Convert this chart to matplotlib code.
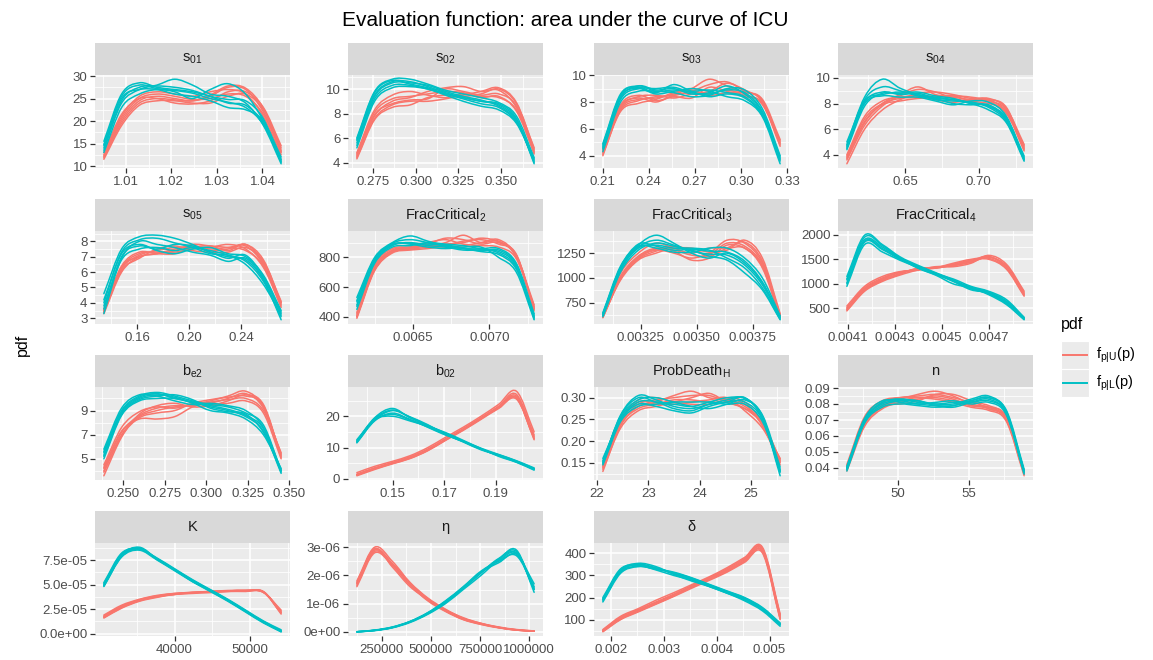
import numpy as np
import matplotlib
matplotlib.use("Agg")
import matplotlib.pyplot as plt
from matplotlib.patches import Rectangle, PathPatch
from matplotlib.path import Path
from matplotlib.lines import Line2D

plt.rcParams['font.family'] = ['Liberation Sans', 'DejaVu Sans']
plt.rcParams['mathtext.fontset'] = 'custom'
plt.rcParams['mathtext.rm'] = 'Liberation Sans'
plt.rcParams['mathtext.it'] = 'Liberation Sans:italic'
plt.rcParams['mathtext.bf'] = 'Liberation Sans:bold'

RED = '#F8766D'
TEAL = '#00BFC4'

# ---------------------------------------------------------------- data
# each curve is a density evaluated on an even grid over [x_min, x_max]

s01_x = [1.0052, 1.0441]
s01_red = [
    [12.0, 20.0, 24.5, 25.5, 25.0, 24.5, 25.5, 27.5, 27.0, 22.0, 13.0],
    [11.5, 19.0, 23.5, 24.5, 24.5, 24.0, 24.0, 25.5, 26.0, 22.5, 14.0],
    [12.5, 21.0, 25.5, 26.5, 26.0, 25.5, 26.5, 27.0, 26.0, 21.0, 12.5],
    [13.0, 21.5, 25.0, 25.0, 24.0, 23.8, 24.5, 26.5, 26.5, 23.0, 14.5],
    [12.2, 20.5, 25.0, 26.0, 25.5, 24.8, 25.0, 26.0, 25.5, 21.5, 13.5],
    [11.8, 19.5, 24.0, 25.0, 24.7, 24.5, 25.8, 27.8, 27.3, 22.8, 13.2],
]
s01_teal = [
    [15.5, 26.0, 28.5, 27.5, 27.0, 26.5, 25.5, 24.0, 23.5, 19.5, 11.0],
    [14.0, 24.0, 27.0, 28.0, 29.3, 28.0, 26.0, 25.5, 24.0, 19.0, 10.5],
    [13.0, 23.0, 26.0, 27.0, 26.5, 25.0, 27.0, 28.3, 26.0, 20.0, 11.5],
    [14.5, 25.0, 27.0, 27.0, 26.0, 25.5, 24.5, 23.0, 22.5, 20.0, 12.0],
    [14.8, 25.5, 28.0, 27.2, 26.8, 26.2, 25.0, 24.2, 23.0, 19.2, 11.3],
    [13.5, 24.5, 27.5, 27.8, 27.5, 26.8, 25.5, 24.8, 24.5, 20.5, 10.8],
]
s01_xticks = [1.01, 1.02, 1.03, 1.04]
s01_xlabels = ['1.01', '1.02', '1.03', '1.04']
s01_yticks = [10, 15, 20, 25, 30]
s01_ylabels = ['10', '15', '20', '25', '30']

s02_x = [0.2656, 0.3693]
s02_red = [
    [4.5, 7.8, 9.0, 9.3, 9.8, 10.1, 10.2, 9.8, 9.9, 8.5, 5.0],
    [4.3, 7.5, 8.5, 8.7, 9.3, 9.5, 9.4, 9.6, 10.0, 8.8, 5.2],
    [4.8, 8.3, 9.5, 9.8, 9.5, 9.3, 9.6, 9.4, 9.3, 8.3, 4.9],
    [4.6, 7.9, 8.8, 9.1, 9.2, 10.0, 9.8, 9.5, 9.6, 8.6, 4.7],
    [4.4, 7.6, 8.7, 9.0, 9.0, 9.2, 9.5, 9.8, 10.1, 8.9, 5.1],
    [4.7, 8.1, 9.2, 9.4, 9.6, 9.8, 9.7, 9.3, 9.4, 8.2, 4.8],
]
s02_teal = [
    [5.8, 9.5, 10.6, 10.6, 10.2, 9.7, 9.3, 9.0, 8.7, 7.5, 4.0],
    [5.4, 9.2, 10.3, 10.3, 10.0, 9.5, 9.0, 8.6, 8.3, 7.2, 4.2],
    [6.0, 9.8, 10.8, 10.8, 10.4, 9.9, 9.6, 9.3, 8.9, 7.8, 4.4],
    [5.2, 9.0, 10.1, 10.2, 10.0, 9.6, 9.3, 9.0, 8.8, 7.6, 3.9],
    [5.6, 9.4, 10.5, 10.5, 10.3, 9.8, 9.4, 9.1, 8.6, 7.4, 4.1],
    [5.9, 9.7, 10.7, 10.4, 10.1, 9.6, 9.2, 8.8, 8.5, 7.3, 4.3],
]
s02_xticks = [0.275, 0.300, 0.325, 0.350]
s02_xlabels = ['0.275', '0.300', '0.325', '0.350']
s02_yticks = [4, 6, 8, 10]
s02_ylabels = ['4', '6', '8', '10']

s03_x = [0.2102, 0.3255]
s03_red = [
    [4.0, 7.5, 8.2, 8.3, 8.6, 9.0, 9.7, 9.2, 8.6, 7.8, 5.0],
    [4.3, 7.6, 8.4, 8.5, 8.3, 8.6, 8.8, 9.4, 8.9, 8.0, 4.8],
    [4.1, 7.3, 7.9, 8.2, 8.7, 8.9, 8.5, 8.7, 8.7, 8.2, 5.2],
    [4.5, 7.8, 8.5, 8.1, 8.4, 8.3, 9.1, 8.8, 8.4, 7.9, 4.7],
    [4.2, 7.4, 8.1, 8.4, 8.5, 8.8, 9.3, 9.5, 8.8, 8.1, 4.9],
    [4.4, 7.7, 8.3, 8.0, 8.5, 8.7, 8.6, 8.9, 8.5, 7.9, 5.1],
]
s03_teal = [
    [4.6, 8.3, 9.2, 8.9, 9.0, 8.6, 8.7, 9.2, 8.6, 7.2, 3.6],
    [4.9, 8.6, 9.1, 8.7, 9.3, 8.8, 8.4, 8.6, 8.3, 7.0, 3.8],
    [4.3, 8.0, 8.8, 8.8, 8.7, 8.4, 8.5, 9.0, 8.9, 7.5, 4.0],
    [4.7, 8.4, 9.0, 8.6, 8.8, 9.0, 8.8, 8.4, 8.1, 6.9, 3.4],
    [4.5, 8.2, 9.0, 9.0, 9.1, 8.7, 8.6, 8.9, 8.7, 7.3, 3.7],
    [4.8, 8.5, 9.2, 8.8, 8.9, 8.8, 8.9, 8.7, 8.4, 7.1, 3.9],
]
s03_xticks = [0.21, 0.24, 0.27, 0.30, 0.33]
s03_xlabels = ['0.21', '0.24', '0.27', '0.30', '0.33']
s03_yticks = [4, 6, 8, 10]
s03_ylabels = ['4', '6', '8', '10']

s04_x = [0.6103, 0.7308]
s04_red = [
    [3.7, 6.5, 8.0, 8.7, 9.3, 8.7, 8.5, 8.3, 8.2, 7.5, 4.5],
    [4.0, 7.0, 8.2, 8.5, 8.6, 8.3, 8.1, 8.3, 8.4, 7.6, 4.8],
    [3.3, 6.0, 7.5, 8.3, 8.8, 8.9, 8.7, 8.4, 8.3, 7.3, 4.3],
    [3.9, 6.8, 8.0, 8.4, 8.5, 8.6, 8.6, 8.2, 8.0, 7.4, 4.6],
    [3.6, 6.3, 7.8, 8.6, 9.1, 8.9, 8.4, 8.2, 8.3, 7.7, 4.4],
    [3.8, 6.6, 7.9, 8.2, 8.4, 8.5, 8.6, 8.5, 8.2, 7.2, 4.7],
]
s04_teal = [
    [4.8, 8.5, 9.9, 9.2, 8.7, 8.5, 8.3, 8.0, 7.5, 6.5, 3.5],
    [4.4, 7.8, 8.8, 8.8, 8.9, 8.6, 8.4, 8.0, 7.8, 6.7, 3.7],
    [5.0, 8.2, 8.7, 8.9, 8.7, 8.3, 8.2, 8.1, 7.8, 6.9, 3.9],
    [4.5, 8.0, 8.6, 8.5, 8.5, 8.2, 7.9, 8.2, 8.1, 7.0, 3.6],
    [4.7, 8.3, 9.3, 9.0, 8.6, 8.4, 8.3, 8.1, 7.7, 6.6, 3.6],
    [4.6, 8.1, 8.9, 8.7, 8.8, 8.4, 8.0, 7.9, 7.9, 6.8, 3.8],
]
s04_xticks = [0.65, 0.70]
s04_xlabels = ['0.65', '0.70']
s04_yticks = [4, 6, 8, 10]
s04_ylabels = ['4', '6', '8', '10']

s05_x = [0.1345, 0.2707]
s05_red = [
    [3.3, 6.0, 7.0, 7.2, 7.5, 7.7, 7.5, 7.6, 7.7, 6.5, 4.0],
    [3.5, 6.3, 7.2, 7.3, 7.3, 7.5, 7.6, 7.8, 7.5, 6.3, 3.8],
    [3.4, 6.1, 6.9, 7.5, 7.7, 7.4, 7.3, 7.3, 7.6, 6.7, 4.1],
    [3.6, 6.4, 7.3, 7.2, 7.2, 7.6, 7.7, 7.4, 7.8, 6.6, 3.9],
    [3.4, 6.2, 7.1, 7.4, 7.6, 7.6, 7.4, 7.5, 7.8, 6.8, 4.0],
    [3.5, 6.3, 7.0, 7.2, 7.4, 7.8, 7.7, 7.6, 7.4, 6.4, 3.7],
]
s05_teal = [
    [4.6, 7.5, 8.3, 8.4, 8.2, 7.8, 7.3, 7.0, 6.8, 5.5, 2.9],
    [3.8, 6.8, 7.5, 7.6, 7.4, 7.6, 7.4, 7.1, 6.5, 5.2, 3.2],
    [4.2, 7.2, 7.8, 7.4, 7.2, 7.5, 7.6, 7.2, 7.0, 5.8, 3.5],
    [3.3, 6.9, 8.0, 7.8, 7.6, 7.3, 7.1, 6.7, 6.9, 5.6, 3.3],
    [4.0, 7.3, 8.1, 8.2, 7.9, 7.6, 7.2, 7.1, 6.7, 5.4, 3.1],
    [3.6, 7.0, 7.7, 7.5, 7.8, 7.7, 7.3, 6.9, 7.1, 5.7, 3.4],
]
s05_xticks = [0.16, 0.20, 0.24]
s05_xlabels = ['0.16', '0.20', '0.24']
s05_yticks = [3, 4, 5, 6, 7, 8]
s05_ylabels = ['3', '4', '5', '6', '7', '8']

fc2_x = [0.006131, 0.007293]
fc2_red = [
    [400, 720, 840, 860, 880, 900, 950, 900, 910, 800, 450],
    [420, 740, 850, 870, 900, 920, 890, 880, 870, 790, 470],
    [390, 710, 830, 850, 860, 880, 910, 920, 890, 820, 440],
    [430, 750, 860, 870, 880, 870, 880, 900, 920, 810, 480],
    [410, 730, 845, 865, 890, 930, 920, 890, 900, 805, 460],
    [400, 715, 835, 855, 870, 890, 900, 930, 905, 815, 455],
]
fc2_teal = [
    [530, 800, 900, 945, 910, 880, 860, 840, 820, 720, 400],
    [480, 770, 880, 900, 880, 870, 850, 850, 840, 740, 385],
    [450, 760, 870, 880, 900, 890, 880, 860, 860, 760, 420],
    [510, 790, 890, 890, 870, 860, 870, 870, 800, 700, 380],
    [500, 785, 895, 920, 900, 875, 860, 855, 830, 730, 395],
    [470, 775, 885, 895, 890, 885, 865, 845, 850, 750, 410],
]
fc2_xticks = [0.0065, 0.0070]
fc2_xlabels = ['0.0065', '0.0070']
fc2_yticks = [400, 600, 800]
fc2_ylabels = ['400', '600', '800']

fc3_x = [0.003080, 0.003872]
fc3_red = [
    [600, 1000, 1200, 1280, 1250, 1200, 1250, 1380, 1350, 1150, 620],
    [620, 1050, 1250, 1350, 1300, 1250, 1300, 1300, 1300, 1100, 600],
    [610, 980, 1180, 1250, 1300, 1300, 1260, 1280, 1380, 1200, 640],
    [630, 1020, 1220, 1300, 1270, 1180, 1200, 1330, 1300, 1120, 610],
    [615, 1010, 1210, 1290, 1280, 1230, 1220, 1300, 1360, 1170, 630],
    [605, 990, 1190, 1270, 1320, 1280, 1240, 1350, 1320, 1130, 615],
]
fc3_teal = [
    [640, 1100, 1330, 1430, 1350, 1250, 1200, 1250, 1150, 950, 600],
    [620, 1080, 1300, 1330, 1300, 1300, 1280, 1200, 1100, 900, 585],
    [650, 1120, 1320, 1300, 1260, 1260, 1300, 1300, 1200, 1000, 620],
    [610, 1060, 1280, 1350, 1320, 1280, 1220, 1180, 1050, 880, 580],
    [630, 1090, 1310, 1380, 1330, 1270, 1240, 1230, 1130, 930, 595],
    [640, 1110, 1340, 1320, 1280, 1290, 1270, 1260, 1170, 960, 610],
]
fc3_xticks = [0.00325, 0.00350, 0.00375]
fc3_xlabels = ['0.00325', '0.00350', '0.00375']
fc3_yticks = [750, 1000, 1250]
fc3_ylabels = ['750', '1000', '1250']

fc4_x = [0.004095, 0.004849]
fc4_red = [
    [500, 900, 1100, 1230, 1300, 1320, 1380, 1450, 1550, 1350, 800],
    [450, 850, 1050, 1180, 1280, 1330, 1400, 1480, 1500, 1300, 750],
    [550, 950, 1150, 1250, 1280, 1350, 1350, 1420, 1580, 1400, 850],
    [480, 880, 1080, 1200, 1320, 1330, 1420, 1500, 1520, 1320, 780],
    [520, 920, 1120, 1240, 1290, 1340, 1370, 1440, 1540, 1370, 820],
    [470, 870, 1070, 1210, 1310, 1320, 1390, 1470, 1560, 1330, 770],
]
fc4_teal = [
    [1150, 1990, 1800, 1550, 1380, 1230, 1080, 900, 800, 600, 280],
    [1000, 1850, 1700, 1500, 1350, 1200, 1050, 880, 820, 650, 300],
    [1100, 1900, 1750, 1520, 1320, 1180, 1000, 920, 780, 580, 270],
    [950, 1800, 1650, 1480, 1340, 1210, 1100, 950, 850, 680, 320],
    [1080, 1950, 1780, 1530, 1360, 1220, 1060, 910, 810, 620, 290],
    [1020, 1870, 1720, 1510, 1330, 1190, 1070, 930, 830, 640, 310],
]
fc4_xticks = [0.0041, 0.0043, 0.0045, 0.0047]
fc4_xlabels = ['0.0041', '0.0043', '0.0045', '0.0047']
fc4_yticks = [500, 1000, 1500, 2000]
fc4_ylabels = ['500', '1000', '1500', '2000']

be2_x = [0.2384, 0.3450]
be2_red = [
    [4.0, 7.0, 8.5, 9.0, 9.3, 9.5, 9.8, 10.2, 10.6, 9.3, 5.3],
    [4.3, 7.3, 8.3, 8.3, 8.5, 9.3, 9.7, 9.9, 10.0, 9.0, 5.5],
    [3.6, 6.8, 8.7, 9.4, 9.6, 9.3, 9.4, 9.8, 10.3, 9.5, 5.2],
    [4.5, 7.6, 8.9, 9.3, 9.2, 9.5, 9.5, 9.6, 9.8, 8.8, 5.0],
    [4.2, 7.2, 8.6, 9.2, 9.4, 9.4, 9.6, 10.0, 10.4, 9.2, 5.4],
    [3.9, 6.9, 8.4, 8.8, 9.0, 9.6, 9.9, 10.1, 10.2, 9.4, 5.1],
]
be2_teal = [
    [5.6, 9.0, 10.2, 10.5, 10.2, 9.8, 9.5, 9.3, 8.8, 7.8, 4.0],
    [5.0, 8.6, 9.8, 10.0, 10.0, 9.7, 9.3, 9.0, 8.5, 7.3, 3.8],
    [5.3, 8.8, 10.0, 10.3, 10.1, 9.6, 9.0, 8.8, 8.3, 7.0, 4.2],
    [5.8, 9.2, 10.3, 10.2, 9.8, 9.5, 9.6, 9.4, 9.0, 7.6, 4.1],
    [5.5, 8.9, 10.1, 10.4, 10.0, 9.7, 9.4, 9.1, 8.6, 7.5, 3.9],
    [5.2, 8.7, 9.9, 10.2, 10.3, 9.9, 9.2, 8.9, 8.7, 7.2, 4.0],
]
be2_xticks = [0.250, 0.275, 0.300, 0.325, 0.350]
be2_xlabels = ['0.250', '0.275', '0.300', '0.325', '0.350']
be2_yticks = [5, 7, 9]
be2_ylabels = ['5', '7', '9']

b02_x = [0.1362, 0.2048]
b02_red = [
    [1.5, 3.5, 5.2, 7.0, 9.5, 12.8, 16.0, 19.5, 23.0, 26.5, 14.0],
    [1.0, 3.0, 4.8, 6.5, 9.0, 12.3, 15.5, 19.0, 22.5, 25.5, 13.0],
    [2.0, 4.0, 5.6, 7.4, 10.0, 13.3, 16.5, 20.0, 23.8, 28.0, 15.0],
    [1.3, 3.3, 5.0, 6.8, 9.2, 12.5, 15.8, 19.3, 22.8, 26.0, 12.5],
    [1.4, 3.4, 5.1, 6.9, 9.4, 12.6, 15.9, 19.4, 23.2, 27.0, 13.5],
    [1.2, 3.2, 4.9, 6.6, 9.1, 12.4, 15.7, 19.2, 22.7, 25.8, 12.8],
]
b02_teal = [
    [12.0, 19.5, 22.5, 19.5, 17.0, 14.5, 12.0, 9.5, 7.5, 5.5, 3.0],
    [11.5, 18.5, 21.0, 19.0, 16.5, 14.0, 12.0, 9.8, 7.8, 5.8, 3.5],
    [12.5, 19.0, 20.0, 18.5, 16.8, 14.8, 12.3, 9.7, 7.2, 5.3, 2.8],
    [11.8, 18.8, 21.8, 19.8, 17.3, 14.3, 11.8, 9.3, 7.6, 5.6, 3.2],
    [12.2, 19.2, 22.0, 19.7, 17.1, 14.6, 12.1, 9.6, 7.4, 5.4, 3.1],
    [11.7, 18.7, 20.6, 18.8, 16.6, 14.2, 11.9, 9.5, 7.7, 5.7, 3.3],
]
b02_xticks = [0.15, 0.17, 0.19]
b02_xlabels = ['0.15', '0.17', '0.19']
b02_yticks = [0, 10, 20]
b02_ylabels = ['0', '10', '20']

pdh_x = [22.117, 25.566]
pdh_red = [
    [0.130, 0.235, 0.280, 0.290, 0.305, 0.315, 0.300, 0.295, 0.280, 0.240, 0.150],
    [0.140, 0.245, 0.290, 0.285, 0.285, 0.290, 0.295, 0.300, 0.270, 0.230, 0.160],
    [0.135, 0.230, 0.270, 0.280, 0.290, 0.300, 0.310, 0.290, 0.275, 0.245, 0.155],
    [0.145, 0.250, 0.295, 0.300, 0.290, 0.285, 0.285, 0.295, 0.285, 0.235, 0.145],
    [0.138, 0.240, 0.285, 0.295, 0.300, 0.305, 0.305, 0.290, 0.275, 0.238, 0.152],
    [0.142, 0.238, 0.275, 0.285, 0.295, 0.295, 0.290, 0.300, 0.290, 0.242, 0.158],
]
pdh_teal = [
    [0.150, 0.260, 0.305, 0.295, 0.280, 0.275, 0.285, 0.295, 0.300, 0.255, 0.120],
    [0.160, 0.250, 0.285, 0.280, 0.270, 0.265, 0.280, 0.290, 0.290, 0.250, 0.130],
    [0.145, 0.245, 0.280, 0.285, 0.290, 0.290, 0.290, 0.285, 0.285, 0.245, 0.135],
    [0.155, 0.255, 0.295, 0.300, 0.290, 0.280, 0.275, 0.285, 0.295, 0.260, 0.140],
    [0.152, 0.258, 0.300, 0.290, 0.285, 0.280, 0.290, 0.300, 0.298, 0.258, 0.128],
    [0.148, 0.250, 0.290, 0.290, 0.275, 0.270, 0.285, 0.290, 0.300, 0.252, 0.132],
]
pdh_xticks = [22, 23, 24, 25]
pdh_xlabels = ['22', '23', '24', '25']
pdh_yticks = [0.15, 0.20, 0.25, 0.30]
pdh_ylabels = ['0.15', '0.20', '0.25', '0.30']

n_x = [46.37, 58.89]
n_red = [
    [0.040, 0.070, 0.080, 0.083, 0.086, 0.088, 0.085, 0.080, 0.078, 0.072, 0.037],
    [0.038, 0.066, 0.077, 0.081, 0.083, 0.085, 0.083, 0.079, 0.078, 0.070, 0.036],
    [0.042, 0.072, 0.082, 0.084, 0.084, 0.083, 0.081, 0.078, 0.076, 0.069, 0.035],
    [0.039, 0.068, 0.079, 0.080, 0.082, 0.086, 0.086, 0.082, 0.077, 0.071, 0.038],
    [0.041, 0.071, 0.081, 0.084, 0.085, 0.086, 0.084, 0.081, 0.079, 0.071, 0.036],
    [0.039, 0.067, 0.078, 0.082, 0.084, 0.084, 0.082, 0.079, 0.077, 0.070, 0.037],
]
n_teal = [
    [0.041, 0.070, 0.081, 0.083, 0.081, 0.080, 0.080, 0.083, 0.085, 0.075, 0.037],
    [0.039, 0.069, 0.079, 0.082, 0.082, 0.079, 0.078, 0.081, 0.083, 0.074, 0.038],
    [0.040, 0.071, 0.082, 0.081, 0.080, 0.081, 0.082, 0.080, 0.081, 0.073, 0.036],
    [0.038, 0.068, 0.078, 0.080, 0.079, 0.078, 0.079, 0.082, 0.084, 0.076, 0.039],
    [0.040, 0.070, 0.080, 0.082, 0.080, 0.079, 0.079, 0.082, 0.084, 0.075, 0.038],
    [0.039, 0.069, 0.081, 0.083, 0.082, 0.080, 0.081, 0.081, 0.082, 0.074, 0.037],
]
n_xticks = [50, 55]
n_xlabels = ['50', '55']
n_yticks = [0.04, 0.05, 0.06, 0.07, 0.08, 0.09]
n_ylabels = ['0.04', '0.05', '0.06', '0.07', '0.08', '0.09']

K_x = [30640, 54100]
K_red = np.array([
    [1.80, 2.80, 3.40, 3.80, 4.00, 4.20, 4.30, 4.35, 4.40, 4.25, 2.20],
    [1.60, 2.60, 3.30, 3.70, 4.00, 4.10, 4.20, 4.30, 4.30, 4.30, 2.00],
    [1.90, 2.90, 3.50, 3.90, 4.10, 4.20, 4.20, 4.30, 4.40, 4.20, 2.40],
    [1.70, 2.70, 3.40, 3.80, 4.10, 4.20, 4.30, 4.40, 4.40, 4.25, 2.10],
    [1.75, 2.75, 3.45, 3.85, 4.05, 4.20, 4.25, 4.35, 4.40, 4.25, 2.30],
    [1.65, 2.65, 3.35, 3.75, 4.00, 4.15, 4.30, 4.35, 4.35, 4.20, 2.15],
]) * 1e-5
K_teal = np.array([
    [5.00, 8.00, 8.80, 7.60, 6.50, 5.40, 4.40, 3.40, 2.30, 1.20, 0.30],
    [4.80, 7.80, 8.50, 7.50, 6.40, 5.30, 4.30, 3.30, 2.20, 1.10, 0.20],
    [5.20, 8.20, 8.60, 7.70, 6.60, 5.50, 4.50, 3.50, 2.40, 1.30, 0.40],
    [4.90, 7.90, 8.70, 7.60, 6.50, 5.30, 4.40, 3.40, 2.30, 1.20, 0.20],
    [5.10, 8.10, 8.70, 7.65, 6.55, 5.45, 4.45, 3.45, 2.35, 1.25, 0.30],
    [4.85, 7.85, 8.60, 7.55, 6.45, 5.35, 4.35, 3.35, 2.25, 1.15, 0.25],
]) * 1e-5
K_xticks = [40000, 50000]
K_xlabels = ['40000', '50000']
K_yticks = [0.0, 2.5e-5, 5.0e-5, 7.5e-5]
K_ylabels = ['0.0e+00', '2.5e-05', '5.0e-05', '7.5e-05']

eta_x = [122500, 1025500]
eta_red = np.array([
    [1.70, 2.90, 2.40, 1.70, 1.15, 0.75, 0.45, 0.28, 0.15, 0.06, 0.02],
    [1.80, 3.00, 2.50, 1.75, 1.20, 0.80, 0.48, 0.30, 0.16, 0.07, 0.03],
    [1.60, 2.80, 2.35, 1.65, 1.10, 0.72, 0.43, 0.26, 0.14, 0.06, 0.02],
    [1.75, 2.95, 2.30, 1.60, 1.15, 0.78, 0.50, 0.30, 0.17, 0.08, 0.03],
    [1.72, 2.92, 2.42, 1.72, 1.17, 0.77, 0.46, 0.29, 0.15, 0.07, 0.02],
    [1.65, 2.85, 2.38, 1.68, 1.12, 0.74, 0.44, 0.27, 0.15, 0.06, 0.02],
]) * 1e-6
eta_teal = np.array([
    [0.0, 0.05, 0.15, 0.35, 0.65, 1.05, 1.55, 2.10, 2.60, 2.85, 1.50],
    [0.0, 0.06, 0.17, 0.37, 0.68, 1.10, 1.60, 2.15, 2.50, 2.70, 1.60],
    [0.0, 0.04, 0.14, 0.33, 0.62, 1.00, 1.50, 2.00, 2.55, 2.90, 1.40],
    [0.0, 0.05, 0.16, 0.36, 0.66, 1.07, 1.58, 2.12, 2.45, 2.75, 1.70],
    [0.0, 0.05, 0.15, 0.35, 0.64, 1.04, 1.54, 2.08, 2.58, 2.80, 1.55],
    [0.0, 0.05, 0.16, 0.36, 0.67, 1.08, 1.57, 2.11, 2.52, 2.78, 1.50],
]) * 1e-6
eta_xticks = [250000, 500000, 750000, 1000000]
eta_xlabels = ['250000', '500000', '750000', '1000000']
eta_yticks = [0.0, 1e-6, 2e-6, 3e-6]
eta_ylabels = ['0e+00', '1e-06', '2e-06', '3e-06']

delta_x = [0.00185, 0.00520]
delta_red = [
    [50, 108, 143, 178, 213, 250, 285, 325, 372, 418, 115],
    [45, 100, 135, 170, 205, 242, 278, 315, 360, 402, 100],
    [55, 115, 150, 188, 222, 258, 294, 335, 382, 428, 125],
    [48, 104, 140, 174, 210, 250, 288, 322, 365, 408, 108],
    [52, 110, 145, 180, 215, 253, 290, 330, 377, 422, 120],
    [47, 102, 138, 172, 207, 246, 282, 318, 366, 412, 104],
]
delta_teal = [
    [190, 320, 350, 335, 310, 285, 255, 225, 195, 150, 80],
    [200, 330, 345, 325, 300, 280, 250, 220, 190, 145, 75],
    [180, 310, 340, 330, 315, 290, 260, 230, 200, 155, 85],
    [195, 325, 355, 340, 305, 275, 250, 220, 185, 140, 70],
    [192, 322, 348, 332, 308, 282, 252, 222, 192, 148, 78],
    [185, 315, 342, 328, 312, 288, 258, 228, 198, 152, 82],
]
delta_xticks = [0.002, 0.003, 0.004, 0.005]
delta_xlabels = ['0.002', '0.003', '0.004', '0.005']
delta_yticks = [100, 200, 300, 400]
delta_ylabels = ['100', '200', '300', '400']

panel_titles = [
    r'$\mathrm{s_{01}}$', r'$\mathrm{s_{02}}$', r'$\mathrm{s_{03}}$', r'$\mathrm{s_{04}}$',
    r'$\mathrm{s_{05}}$', r'$\mathrm{FracCritical_{2}}$', r'$\mathrm{FracCritical_{3}}$',
    r'$\mathrm{FracCritical_{4}}$', r'$\mathrm{b_{e2}}$', r'$\mathrm{b_{02}}$',
    r'$\mathrm{ProbDeath_{H}}$', 'n', 'K', 'η', 'δ',
]

panels = [
    (s01_x, s01_red, s01_teal, s01_xticks, s01_xlabels, s01_yticks, s01_ylabels),
    (s02_x, s02_red, s02_teal, s02_xticks, s02_xlabels, s02_yticks, s02_ylabels),
    (s03_x, s03_red, s03_teal, s03_xticks, s03_xlabels, s03_yticks, s03_ylabels),
    (s04_x, s04_red, s04_teal, s04_xticks, s04_xlabels, s04_yticks, s04_ylabels),
    (s05_x, s05_red, s05_teal, s05_xticks, s05_xlabels, s05_yticks, s05_ylabels),
    (fc2_x, fc2_red, fc2_teal, fc2_xticks, fc2_xlabels, fc2_yticks, fc2_ylabels),
    (fc3_x, fc3_red, fc3_teal, fc3_xticks, fc3_xlabels, fc3_yticks, fc3_ylabels),
    (fc4_x, fc4_red, fc4_teal, fc4_xticks, fc4_xlabels, fc4_yticks, fc4_ylabels),
    (be2_x, be2_red, be2_teal, be2_xticks, be2_xlabels, be2_yticks, be2_ylabels),
    (b02_x, b02_red, b02_teal, b02_xticks, b02_xlabels, b02_yticks, b02_ylabels),
    (pdh_x, pdh_red, pdh_teal, pdh_xticks, pdh_xlabels, pdh_yticks, pdh_ylabels),
    (n_x, n_red, n_teal, n_xticks, n_xlabels, n_yticks, n_ylabels),
    (K_x, K_red, K_teal, K_xticks, K_xlabels, K_yticks, K_ylabels),
    (eta_x, eta_red, eta_teal, eta_xticks, eta_xlabels, eta_yticks, eta_ylabels),
    (delta_x, delta_red, delta_teal, delta_xticks, delta_xlabels, delta_yticks, delta_ylabels),
]

# ---------------------------------------------------------------- layout
W, H = 1153, 660
fig = plt.figure(figsize=(W / 100, H / 100), dpi=100)
fig.patch.set_facecolor('white')

COL_LEFT = [95, 348, 594, 838]
ROW_TOP = [43, 199, 355, 511]
PANEL_W, STRIP_H, PANEL_H = 195, 32, 93


def fig_rect(x, y, w, h):
    return [x / W, 1 - (y + h) / H, w / W, h / H]


def expand(lo, hi, mult=0.05):
    pad = (hi - lo) * mult
    return lo - pad, hi + pad


def minor_breaks(major, lo, hi):
    step = major[1] - major[0]
    cand = [major[0] - step / 2] + [m + step / 2 for m in major]
    return [c for c in cand if lo <= c <= hi]


def density_path(xs, ys):
    """Smooth cubic path passing through every evaluated point."""
    P = np.column_stack([xs, ys])
    n = len(P)
    tang = np.empty_like(P)
    tang[1:-1] = (P[2:] - P[:-2]) / 2
    tang[0] = P[1] - P[0]
    tang[-1] = P[-1] - P[-2]
    verts = [P[0]]
    codes = [Path.MOVETO]
    for k in range(n - 1):
        verts += [P[k] + tang[k] / 3, P[k + 1] - tang[k + 1] / 3, P[k + 1]]
        codes += [Path.CURVE4] * 3
    return Path(verts, codes)


for i, (xr, red, teal, xt, xtl, yt, ytl) in enumerate(panels):
    r, c = divmod(i, 4)
    left, top = COL_LEFT[c], ROW_TOP[r]

    # facet strip
    fig.add_artist(Rectangle((left / W, 1 - (top + STRIP_H) / H), PANEL_W / W, STRIP_H / H,
                             transform=fig.transFigure, facecolor='#D9D9D9',
                             edgecolor='none'))
    fig.text((left + PANEL_W / 2) / W, 1 - (top + STRIP_H / 2) / H, panel_titles[i],
             ha='center', va='center', fontsize=10.5, color='#1A1A1A')

    ax = fig.add_axes(fig_rect(left, top + STRIP_H, PANEL_W, PANEL_H))
    ax.set_facecolor('#EBEBEB')
    for sp in ax.spines.values():
        sp.set_visible(False)

    red = np.asarray(red, dtype=float)
    teal = np.asarray(teal, dtype=float)
    xs = np.linspace(xr[0], xr[1], red.shape[1])
    for group, col in ((red, RED), (teal, TEAL)):
        for curve in group:
            ax.add_patch(PathPatch(density_path(xs, curve), fill=False,
                                   edgecolor=col, lw=1.1, capstyle='round',
                                   joinstyle='round'))

    xlo, xhi = expand(xr[0], xr[1])
    allv = np.concatenate([red.ravel(), teal.ravel()])
    ylo, yhi = expand(allv.min(), allv.max())

    ax.set_xticks(xt, xtl)
    ax.set_yticks(yt, ytl)
    ax.set_xticks(minor_breaks(xt, xlo, xhi), minor=True)
    ax.set_yticks(minor_breaks(yt, ylo, yhi), minor=True)
    ax.set_xlim(xlo, xhi)
    ax.set_ylim(ylo, yhi)

    ax.grid(which='major', color='white', lw=1.1)
    ax.grid(which='minor', color='white', lw=0.55)
    ax.set_axisbelow(True)
    ax.tick_params(which='major', length=3.5, width=0.9, color='#333333',
                   labelcolor='#4D4D4D', labelsize=9.5, pad=2)
    ax.tick_params(which='minor', length=0)

# ---------------------------------------------------------------- titles
fig.text(565 / W, 1 - 20 / H, 'Evaluation function: area under the curve of ICU',
         ha='center', va='center', fontsize=15, color='black')
fig.text(22 / W, 1 - 345 / H, 'pdf', rotation=90, ha='center', va='center',
         fontsize=11.5, color='black')

# ---------------------------------------------------------------- legend
fig.text(1061 / W, 1 - 325 / H, 'pdf', ha='left', va='center', fontsize=11.5)
legend_items = [(RED, r'$\mathrm{f_{p|U}(p)}$'), (TEAL, r'$\mathrm{f_{p|L}(p)}$')]
for k, (col, lab) in enumerate(legend_items):
    ktop = 341 + 28 * k
    fig.add_artist(Rectangle((1061 / W, 1 - (ktop + 28) / H), 28 / W, 28 / H,
                             transform=fig.transFigure, facecolor='#EBEBEB',
                             edgecolor='white', lw=0.8))
    yc = 1 - (ktop + 14) / H
    fig.add_artist(Line2D([1063 / W, 1087 / W], [yc, yc], transform=fig.transFigure,
                          color=col, lw=1.4))
    fig.text(1096 / W, yc, lab, ha='left', va='center', fontsize=10.5)

fig.savefig('out.png', dpi=100, facecolor='white')
